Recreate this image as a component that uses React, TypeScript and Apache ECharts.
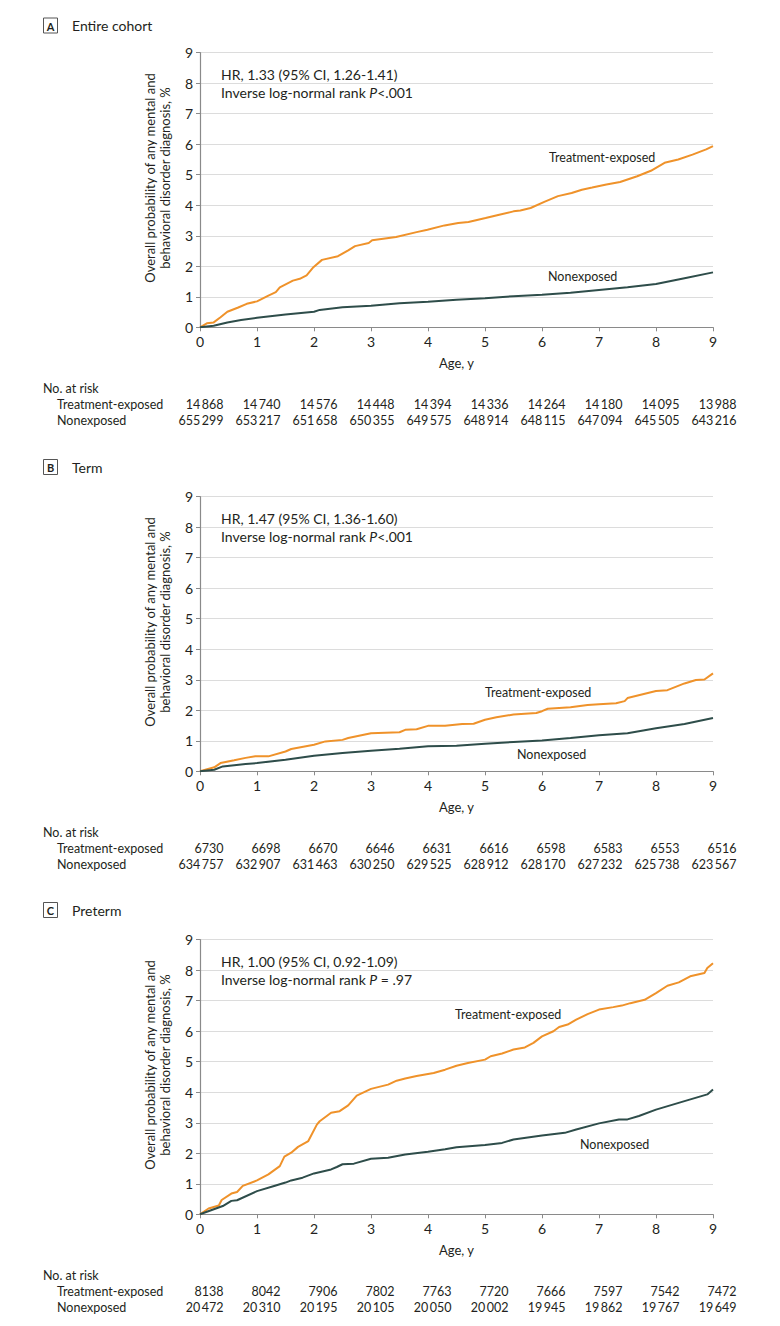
import React, { useEffect, useRef } from "react";
import * as echarts from "echarts";

// ---------- data ----------
const panelLetters = ["A", "B", "C"];
const panelTitles = ["Entire cohort", "Term", "Preterm"];
const hrTexts = [
  "HR, 1.33 (95% CI, 1.26-1.41)",
  "HR, 1.47 (95% CI, 1.36-1.60)",
  "HR, 1.00 (95% CI, 0.92-1.09)",
];
const pTexts = ["<.001", "<.001", " = .97"];
const riskYears = [0, 1, 2, 3, 4, 5, 6, 7, 8, 9];
const groupNames = ["Treatment-exposed", "Nonexposed"];

const entireTreated = [
  [0, 0], [0.12, 0.13], [0.24, 0.16], [0.36, 0.33], [0.48, 0.51], [0.66, 0.64], [0.82, 0.77],
  [1.0, 0.85], [1.2, 1.04], [1.33, 1.15], [1.4, 1.31], [1.63, 1.53], [1.75, 1.59], [1.87, 1.7],
  [1.99, 1.97], [2.14, 2.21], [2.42, 2.33], [2.6, 2.52], [2.72, 2.66], [2.96, 2.76], [3.02, 2.85],
  [3.44, 2.96], [3.8, 3.12], [3.99, 3.2], [4.29, 3.34], [4.53, 3.42], [4.71, 3.45], [5.01, 3.58],
  [5.25, 3.69], [5.5, 3.8], [5.62, 3.83], [5.8, 3.91], [6.04, 4.11], [6.28, 4.3], [6.52, 4.4],
  [6.7, 4.51], [6.88, 4.58], [7.13, 4.68], [7.37, 4.76], [7.67, 4.95], [7.91, 5.13], [8.15, 5.39],
  [8.39, 5.5], [8.64, 5.66], [8.88, 5.83], [9.0, 5.94],
];
const entireNonexposed = [
  [0, 0], [0.24, 0.05], [0.48, 0.16], [0.72, 0.24], [1.0, 0.31], [1.5, 0.42], [2.0, 0.51],
  [2.1, 0.57], [2.5, 0.66], [3.0, 0.71], [3.5, 0.79], [4.0, 0.84], [4.5, 0.9], [5.0, 0.95],
  [5.5, 1.02], [6.0, 1.07], [6.5, 1.13], [7.0, 1.22], [7.5, 1.31], [8.0, 1.42], [8.5, 1.61], [9.0, 1.8],
];
const termTreated = [
  [0, 0], [0.25, 0.13], [0.36, 0.27], [0.6, 0.36], [0.8, 0.44], [0.97, 0.49], [1.2, 0.49],
  [1.5, 0.65], [1.6, 0.73], [2.0, 0.87], [2.2, 0.98], [2.5, 1.03], [2.6, 1.09], [3.0, 1.25],
  [3.5, 1.28], [3.6, 1.36], [3.8, 1.38], [4.0, 1.49], [4.3, 1.49], [4.6, 1.55], [4.8, 1.56],
  [5.0, 1.69], [5.2, 1.77], [5.5, 1.86], [5.9, 1.91], [6.0, 1.97], [6.1, 2.05], [6.5, 2.1],
  [6.8, 2.17], [7.0, 2.2], [7.3, 2.23], [7.45, 2.3], [7.5, 2.4], [8.0, 2.63], [8.2, 2.66],
  [8.5, 2.88], [8.7, 2.99], [8.85, 3.01], [9.0, 3.21],
];
const termNonexposed = [
  [0, 0], [0.25, 0.05], [0.4, 0.16], [0.8, 0.24], [1.0, 0.27], [1.5, 0.38], [2.0, 0.51],
  [2.5, 0.6], [3.0, 0.67], [3.5, 0.74], [4.0, 0.82], [4.5, 0.84], [5.0, 0.9], [5.5, 0.96],
  [6.0, 1.01], [6.5, 1.09], [7.0, 1.18], [7.5, 1.25], [8.0, 1.41], [8.5, 1.55], [9.0, 1.75],
];
const pretermTreated = [
  [0, 0], [0.15, 0.19], [0.33, 0.29], [0.38, 0.47], [0.55, 0.68], [0.65, 0.73], [0.75, 0.93],
  [1.0, 1.11], [1.2, 1.31], [1.4, 1.58], [1.48, 1.89], [1.6, 2.02], [1.72, 2.21], [1.9, 2.4],
  [2.05, 2.94], [2.1, 3.05], [2.3, 3.33], [2.45, 3.38], [2.6, 3.57], [2.75, 3.89], [3.0, 4.11],
  [3.3, 4.25], [3.45, 4.38], [3.6, 4.45], [3.8, 4.53], [3.95, 4.58], [4.1, 4.63], [4.3, 4.74],
  [4.5, 4.87], [4.7, 4.96], [5.0, 5.07], [5.1, 5.18], [5.3, 5.27], [5.5, 5.4], [5.7, 5.47],
  [5.85, 5.62], [6.0, 5.83], [6.2, 6.0], [6.3, 6.14], [6.45, 6.22], [6.6, 6.38], [6.8, 6.56],
  [7.0, 6.71], [7.25, 6.79], [7.4, 6.84], [7.55, 6.92], [7.8, 7.03], [8.0, 7.25], [8.2, 7.49],
  [8.4, 7.6], [8.6, 7.8], [8.85, 7.91], [8.9, 8.07], [9.0, 8.23],
];
const pretermNonexposed = [
  [0, 0], [0.4, 0.27], [0.55, 0.44], [0.65, 0.46], [1.0, 0.76], [1.3, 0.93], [1.5, 1.04],
  [1.6, 1.11], [1.8, 1.2], [2.0, 1.34], [2.3, 1.47], [2.4, 1.55], [2.5, 1.64], [2.7, 1.66],
  [3.0, 1.82], [3.3, 1.85], [3.6, 1.96], [4.0, 2.05], [4.3, 2.13], [4.5, 2.2], [5.0, 2.27],
  [5.3, 2.34], [5.5, 2.45], [6.0, 2.58], [6.4, 2.67], [6.6, 2.78], [7.0, 2.98], [7.35, 3.11],
  [7.5, 3.11], [7.7, 3.22], [8.0, 3.43], [8.5, 3.71], [8.9, 3.93], [9.0, 4.09],
];

const entireRiskTreated = [14868, 14740, 14576, 14448, 14394, 14336, 14264, 14180, 14095, 13988];
const entireRiskNonexposed = [655299, 653217, 651658, 650355, 649575, 648914, 648115, 647094, 645505, 643216];
const termRiskTreated = [6730, 6698, 6670, 6646, 6631, 6616, 6598, 6583, 6553, 6516];
const termRiskNonexposed = [634757, 632907, 631463, 630250, 629525, 628912, 628170, 627232, 625738, 623567];
const pretermRiskTreated = [8138, 8042, 7906, 7802, 7763, 7720, 7666, 7597, 7542, 7472];
const pretermRiskNonexposed = [20472, 20310, 20195, 20105, 20050, 20002, 19945, 19862, 19767, 19649];

const treatedSeries = [entireTreated, termTreated, pretermTreated];
const nonexposedSeries = [entireNonexposed, termNonexposed, pretermNonexposed];
const riskTreated = [entireRiskTreated, termRiskTreated, pretermRiskTreated];
const riskNonexposed = [entireRiskNonexposed, termRiskNonexposed, pretermRiskNonexposed];

// ---------- layout ----------
const ORANGE = "#EF922A";
const TEAL = "#2E4D4A";
const FONT = 'Lato, "Open Sans", sans-serif';
const TXT = "#231f20";
const offsets = [0, 444, 887];
const headerY = [25.5, 467, 910];
const PLOT_LEFT = 200;
const PLOT_W = 513;
const PLOT_TOP = 52.7;
const PLOT_H = 274.6;
// curve label positions [x, y] relative to panel offset
const treatedLabelPos = [[549, 157], [485, 248], [455, 127]];
const nonexposedLabelPos = [[548, 276], [517, 310], [580, 257]];

function fmt(n: number) {
  const s = String(n);
  return s.length > 4 ? s.slice(0, -3) + "\u2009" + s.slice(-3) : s;
}

function buildOption() {
  const grids: any[] = [];
  const xAxes: any[] = [];
  const yAxes: any[] = [];
  const series: any[] = [];
  const graphic: any[] = [];

  offsets.forEach((off, i) => {
    grids.push({ left: PLOT_LEFT, top: PLOT_TOP + off, width: PLOT_W, height: PLOT_H, containLabel: false });
    xAxes.push({
      gridIndex: i, type: "value", min: 0, max: 9, interval: 1,
      axisLine: { show: true, lineStyle: { color: "#8a8a8a", width: 1.2 } },
      axisTick: { show: true, length: 4, lineStyle: { color: "#8a8a8a" } },
      splitLine: { show: false },
      axisLabel: { color: TXT, fontSize: 14, fontFamily: FONT, margin: 7 },
    });
    yAxes.push({
      gridIndex: i, type: "value", min: 0, max: 9, interval: 1,
      axisLine: { show: true, lineStyle: { color: "#8a8a8a", width: 1.2 } },
      axisTick: { show: true, length: 4, lineStyle: { color: "#8a8a8a" } },
      splitLine: { show: true, lineStyle: { color: "#dcdcdc", width: 1 } },
      axisLabel: { color: TXT, fontSize: 14, fontFamily: FONT, margin: 7 },
    });
    series.push({
      type: "line", xAxisIndex: i, yAxisIndex: i, data: treatedSeries[i], showSymbol: false,
      lineStyle: { color: ORANGE, width: 2 }, itemStyle: { color: ORANGE }, z: 3,
    });
    series.push({
      type: "line", xAxisIndex: i, yAxisIndex: i, data: nonexposedSeries[i], showSymbol: false,
      lineStyle: { color: TEAL, width: 2 }, itemStyle: { color: TEAL }, z: 3,
    });

    // header
    graphic.push({
      type: "rect", shape: { x: 43.5, y: headerY[i] - 7.5, width: 14, height: 15 },
      style: { fill: "#fff", stroke: "#555", lineWidth: 1 },
    });
    graphic.push({
      type: "text", x: 50.5, y: headerY[i] + 0.5,
      style: { text: panelLetters[i], fontSize: 11, fontWeight: "bold", fontFamily: FONT, fill: TXT, align: "center", verticalAlign: "middle" },
    });
    graphic.push({
      type: "text", x: 72, y: headerY[i],
      style: { text: panelTitles[i], fontSize: 14, fontFamily: FONT, fill: TXT, align: "left", verticalAlign: "middle" },
    });
    // HR annotation
    graphic.push({
      type: "text", x: 221, y: 74 + off,
      style: { text: hrTexts[i], fontSize: 14, fontFamily: FONT, fill: TXT, align: "left", verticalAlign: "middle" },
    });
    graphic.push({
      type: "text", x: 221, y: 92 + off,
      style: {
        text: "Inverse log-normal rank {i|P}" + pTexts[i],
        fontSize: 14, fontFamily: FONT, fill: TXT, align: "left", verticalAlign: "middle",
        rich: { i: { fontStyle: "italic", fontSize: 14, fontFamily: FONT, fill: TXT } },
      },
    });
    // curve labels
    graphic.push({
      type: "text", x: treatedLabelPos[i][0], y: treatedLabelPos[i][1] + off,
      style: { text: groupNames[0], fontSize: 12.5, fontFamily: FONT, fill: TXT, align: "left", verticalAlign: "middle" },
    });
    graphic.push({
      type: "text", x: nonexposedLabelPos[i][0], y: nonexposedLabelPos[i][1] + off,
      style: { text: groupNames[1], fontSize: 12.5, fontFamily: FONT, fill: TXT, align: "left", verticalAlign: "middle" },
    });
    // y axis title
    graphic.push({
      type: "text", x: 157, y: 178 + off, rotation: Math.PI / 2,
      style: {
        text: "Overall probability of any mental and\nbehavioral disorder diagnosis, %",
        fontSize: 13, lineHeight: 15, fontFamily: FONT, fill: TXT, align: "center", verticalAlign: "middle",
      },
    });
    // x axis title
    graphic.push({
      type: "text", x: PLOT_LEFT + PLOT_W / 2, y: 363 + off,
      style: { text: "Age, y", fontSize: 13, fontFamily: FONT, fill: TXT, align: "center", verticalAlign: "middle" },
    });
    // risk table
    graphic.push({
      type: "text", x: 43, y: 388 + off,
      style: { text: "No. at risk", fontSize: 12.5, fontFamily: FONT, fill: TXT, align: "left", verticalAlign: "middle" },
    });
    const rows = [riskTreated[i], riskNonexposed[i]];
    rows.forEach((vals, r) => {
      graphic.push({
        type: "text", x: 57, y: 404 + r * 16 + off,
        style: { text: groupNames[r], fontSize: 12.5, fontFamily: FONT, fill: TXT, align: "left", verticalAlign: "middle" },
      });
      vals.forEach((v, k) => {
        graphic.push({
          type: "text", x: 223.5 + riskYears[k] * 57, y: 404 + r * 16 + off,
          style: { text: fmt(v), fontSize: 12.5, fontFamily: FONT, fill: TXT, align: "right", verticalAlign: "middle" },
        });
      });
    });
  });

  return {
    animation: false,
    backgroundColor: "#ffffff",
    grid: grids,
    xAxis: xAxes,
    yAxis: yAxes,
    series,
    graphic,
  };
}

export default function App() {
  const ref = useRef<HTMLDivElement>(null);
  useEffect(() => {
    if (!ref.current) return;
    const chart = echarts.init(ref.current, null, { renderer: "svg" });
    chart.setOption(buildOption());
    return () => chart.dispose();
  }, []);
  return (
    <div
      ref={ref}
      style={{ position: "absolute", left: 0, top: 0, width: 780, height: 1326, background: "#fff" }}
    />
  );
}
